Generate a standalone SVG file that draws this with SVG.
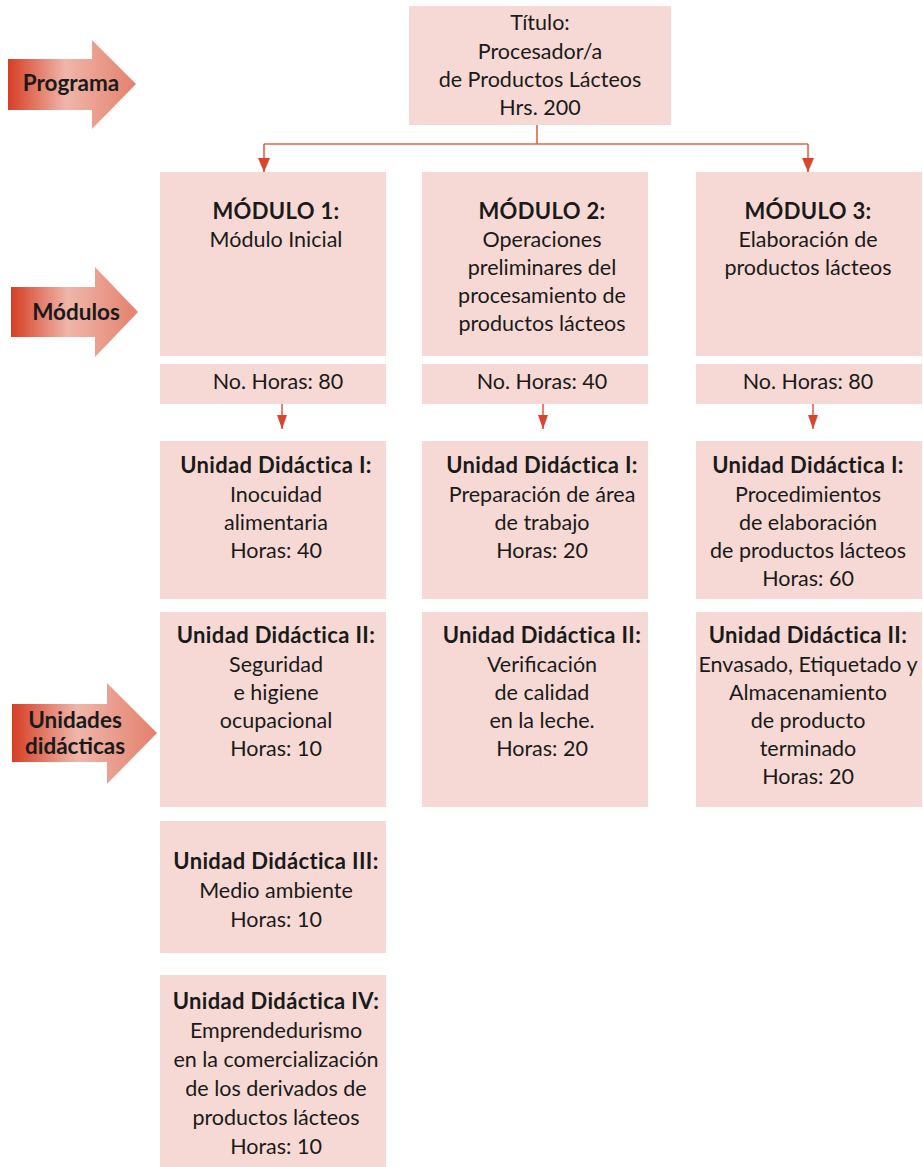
<svg xmlns="http://www.w3.org/2000/svg" width="923" height="1167" viewBox="0 0 923 1167">
<defs>
<linearGradient id="g" x1="0" y1="0" x2="1" y2="0">
<stop offset="0" stop-color="#d63e25"/>
<stop offset="0.45" stop-color="#efb6aa"/>
<stop offset="1" stop-color="#e4806c"/>
</linearGradient>
<marker id="ah" viewBox="0 0 12 14" refX="6" refY="14" markerWidth="12" markerHeight="14" markerUnits="userSpaceOnUse">
<path d="M0,0 L12,0 L6,14 Z" fill="#d9442b"/>
</marker>
<marker id="ah2" viewBox="0 0 10 14" refX="5" refY="14" markerWidth="10" markerHeight="14" markerUnits="userSpaceOnUse">
<path d="M0,0 L10,0 L5,14 Z" fill="#d9442b"/>
</marker>
</defs>
<style>
.box{fill:#f6d9d4}
text{font-family:Lato,"Liberation Sans",sans-serif;font-size:21.5px;fill:#1a1a1a;text-anchor:middle}
.b{font-weight:bold;font-size:22px;letter-spacing:0.35px}
.lbl{font-weight:bold;font-size:22.5px}
.con{fill:none;stroke:#e8604a;stroke-width:1.6}
</style>

<g id="side-programa">
<path d="M8,59 H92 V40 L136,84 L92,129 V110 H8 Z" fill="url(#g)"/>
<text class="lbl" x="71" y="91">Programa</text>
</g>
<g id="side-modulos">
<path d="M11,287 H95 V267 L138,312 L95,357 V337 H11 Z" fill="url(#g)"/>
<text class="lbl" x="76" y="320">Módulos</text>
</g>
<g id="side-unidades">
<path d="M12,704 H107 V683 L157,733 L107,784 V762 H12 Z" fill="url(#g)"/>
<text class="lbl" x="75" y="728">Unidades</text>
<text class="lbl" x="75" y="754">didácticas</text>
</g>

<g id="connectors">
<path class="con" d="M537,125 V144"/>
<path class="con" d="M264,144 H808"/>
<path class="con" d="M264,144 V172" marker-end="url(#ah)"/>
<path class="con" d="M808,144 V172" marker-end="url(#ah)"/>
<path class="con" d="M282,404 V429" marker-end="url(#ah2)"/>
<path class="con" d="M543,404 V429" marker-end="url(#ah2)"/>
<path class="con" d="M813,404 V429" marker-end="url(#ah2)"/>
</g>

<g id="titulo">
<rect class="box" x="409" y="6" width="262" height="119"/>
<text x="540" y="30">Título:</text>
<text x="540" y="58.5">Procesador/a</text>
<text x="540" y="87">de Productos Lácteos</text>
<text x="540" y="115">Hrs. 200</text>
</g>

<g id="modulo1">
<rect class="box" x="160" y="172" width="226" height="184"/>
<text class="b" x="276" y="219">MÓDULO 1:</text>
<text x="276" y="247">Módulo Inicial</text>
</g>
<g id="modulo2">
<rect class="box" x="422" y="172" width="226" height="184"/>
<text class="b" x="542" y="219">MÓDULO 2:</text>
<text x="542" y="247">Operaciones</text>
<text x="542" y="275">preliminares del</text>
<text x="542" y="303">procesamiento de</text>
<text x="542" y="331">productos lácteos</text>
</g>
<g id="modulo3">
<rect class="box" x="696" y="172" width="226" height="184"/>
<text class="b" x="808" y="219">MÓDULO 3:</text>
<text x="808" y="247">Elaboración de</text>
<text x="808" y="275">productos lácteos</text>
</g>

<g id="horas1">
<rect class="box" x="160" y="364" width="226" height="40"/>
<text x="278" y="389">No. Horas: 80</text>
</g>
<g id="horas2">
<rect class="box" x="422" y="364" width="226" height="40"/>
<text x="542" y="389">No. Horas: 40</text>
</g>
<g id="horas3">
<rect class="box" x="696" y="364" width="226" height="40"/>
<text x="808" y="389">No. Horas: 80</text>
</g>

<g id="m1-u1">
<rect class="box" x="160" y="441" width="226" height="158"/>
<text class="b" x="276" y="473">Unidad Didáctica I:</text>
<text x="276" y="501.5">Inocuidad</text>
<text x="276" y="530">alimentaria</text>
<text x="276" y="558">Horas: 40</text>
</g>
<g id="m1-u2">
<rect class="box" x="160" y="612" width="226" height="195"/>
<text class="b" x="276" y="643">Unidad Didáctica II:</text>
<text x="276" y="671.5">Seguridad</text>
<text x="276" y="700">e higiene</text>
<text x="276" y="728">ocupacional</text>
<text x="276" y="756">Horas: 10</text>
</g>
<g id="m1-u3">
<rect class="box" x="160" y="821" width="226" height="132"/>
<text class="b" x="276" y="869">Unidad Didáctica III:</text>
<text x="276" y="898">Medio ambiente</text>
<text x="276" y="927">Horas: 10</text>
</g>
<g id="m1-u4">
<rect class="box" x="160" y="975" width="226" height="192"/>
<text class="b" x="276" y="1009">Unidad Didáctica IV:</text>
<text x="276" y="1038">Emprendedurismo</text>
<text x="276" y="1067">en la comercialización</text>
<text x="276" y="1096">de los derivados de</text>
<text x="276" y="1125">productos lácteos</text>
<text x="276" y="1154">Horas: 10</text>
</g>

<g id="m2-u1">
<rect class="box" x="422" y="441" width="226" height="158"/>
<text class="b" x="542" y="473">Unidad Didáctica I:</text>
<text x="542" y="501.5">Preparación de área</text>
<text x="542" y="530">de trabajo</text>
<text x="542" y="558">Horas: 20</text>
</g>
<g id="m2-u2">
<rect class="box" x="422" y="612" width="226" height="195"/>
<text class="b" x="542" y="643">Unidad Didáctica II:</text>
<text x="542" y="671.5">Verificación</text>
<text x="542" y="700">de calidad</text>
<text x="542" y="728">en la leche.</text>
<text x="542" y="756">Horas: 20</text>
</g>

<g id="m3-u1">
<rect class="box" x="696" y="441" width="226" height="158"/>
<text class="b" x="808" y="473">Unidad Didáctica I:</text>
<text x="808" y="501.5">Procedimientos</text>
<text x="808" y="530">de elaboración</text>
<text x="808" y="558">de productos lácteos</text>
<text x="808" y="586">Horas: 60</text>
</g>
<g id="m3-u2">
<rect class="box" x="696" y="612" width="226" height="195"/>
<text class="b" x="808" y="643">Unidad Didáctica II:</text>
<text x="808" y="672">Envasado, Etiquetado y</text>
<text x="808" y="700">Almacenamiento</text>
<text x="808" y="728">de producto</text>
<text x="808" y="756">terminado</text>
<text x="808" y="784">Horas: 20</text>
</g>
</svg>
